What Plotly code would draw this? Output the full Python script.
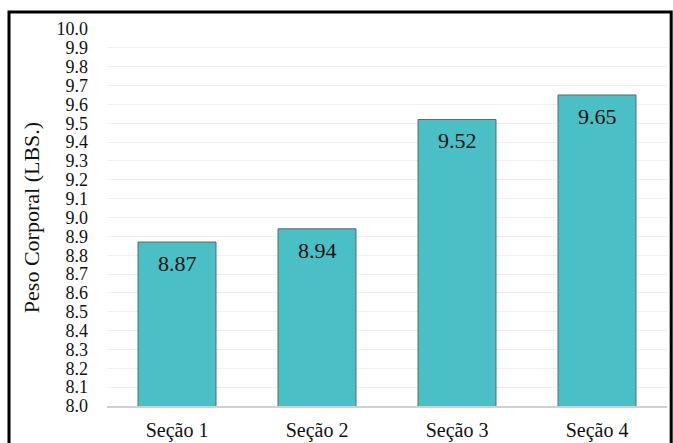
import plotly.graph_objects as go

categories = ["Seção 1", "Seção 2", "Seção 3", "Seção 4"]
values = [8.87, 8.94, 9.52, 9.65]
value_labels = ["8.87", "8.94", "9.52", "9.65"]
tick_vals = [round(8.0 + 0.1 * i, 1) for i in range(21)]
tick_text = [f"{v:.1f}" for v in tick_vals]

FONT = "Liberation Serif"

fig = go.Figure()
fig.add_trace(go.Bar(
    x=categories, y=values, base=0,
    marker=dict(color="#4BBFC6", line=dict(color="#5a6a6c", width=1)),
    width=0.557, hoverinfo="skip",
))

for c, v, t in zip(categories, values, value_labels):
    fig.add_annotation(x=c, y=v, text=t, showarrow=False, yanchor="top", yshift=-7,
                       font=dict(family=FONT, size=22, color="#111111"))

fig.update_layout(
    width=673, height=443,
    margin=dict(l=107, r=6, t=29, b=37),
    paper_bgcolor="white", plot_bgcolor="white",
    showlegend=False,
    font=dict(family=FONT, size=18, color="#111111"),
    yaxis=dict(
        range=[8.0, 10.0], tickvals=tick_vals, ticktext=tick_text,
        showgrid=True, gridcolor="#f0f0f0", gridwidth=1,
        zeroline=False, showline=False, ticks="", automargin=False,
        tickfont=dict(family=FONT, size=18, color="#111111"),
        ticklabelstandoff=18,
        title=dict(text="Peso Corporal (LBS.)", font=dict(family=FONT, size=22, color="#111111"), standoff=10),
    ),
    xaxis=dict(
        showline=True, linecolor="#d0d0d0", linewidth=1.5, automargin=False,
        ticks="", tickfont=dict(family=FONT, size=20, color="#111111"),
        ticklabelstandoff=5,
    ),
)

fig.add_shape(type="rect", xref="paper", yref="paper",
              x0=-0.175, x1=1.0075, y0=-0.3, y1=1.045,
              line=dict(color="black", width=3), fillcolor="rgba(0,0,0,0)", layer="above")

fig.write_html("out.html")
